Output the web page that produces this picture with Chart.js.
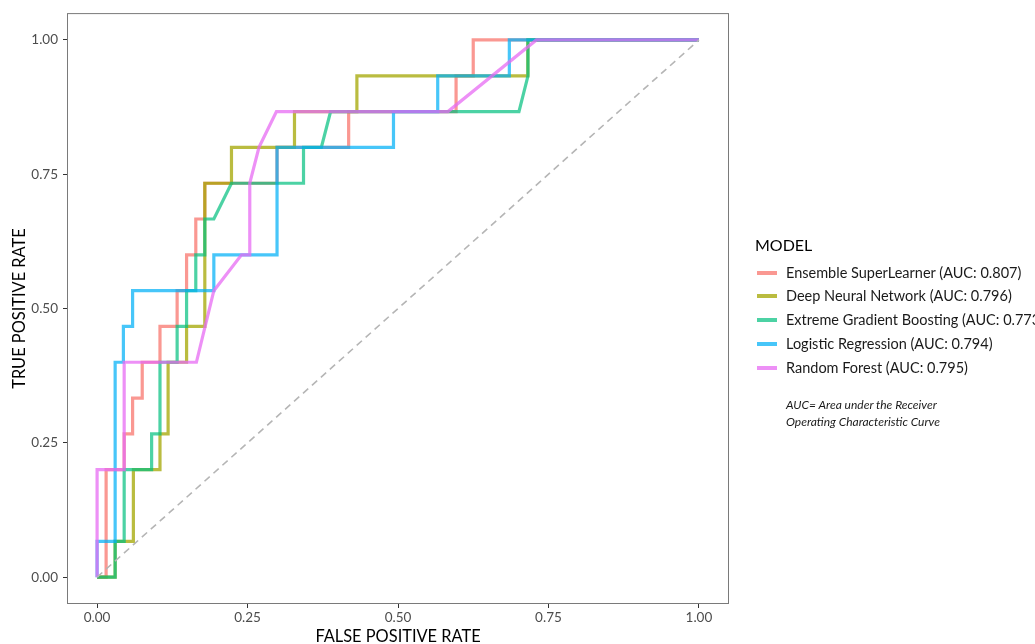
<!DOCTYPE html>
<html>
<head>
<meta charset="utf-8">
<script src="https://cdn.jsdelivr.net/npm/chart.js@4.4.1/dist/chart.umd.min.js"></script>
<style>
  body { margin: 0; background: #fff; font-family: Lato, "Noto Sans", sans-serif; }
  #wrap { position: relative; width: 1035px; height: 644px; overflow: hidden; }
  #legend { position: absolute; left: 0; top: 0; }
  .legend-title { position: absolute; left: 755px; top: 237px; font-size: 16px; line-height: 16px; color: #000; white-space: nowrap; }
  .legend-row { position: absolute; left: 755px; height: 16px; white-space: nowrap; }
  .legend-key { position: absolute; left: 2px; top: 6px; width: 20px; height: 4px; }
  .legend-text { position: absolute; left: 31px; top: 0; font-size: 14.5px; line-height: 16px; color: #1a1a1a; }
  .note { position: absolute; left: 786px; top: 396px; font-size: 12px; line-height: 17.4px; font-style: italic; color: #1a1a1a; white-space: nowrap; }
</style>
</head>
<body>
<div id="wrap">
  <canvas id="rocChart" width="1035" height="644"></canvas>
  <div id="legend"></div>
  <div class="note">AUC= Area under the Receiver<br>Operating Characteristic Curve</div>
</div>
<script>
// tick positions shared by both axes
const rateTicks = [0, 0.25, 0.5, 0.75, 1];

const models = ['Ensemble SuperLearner', 'Deep Neural Network', 'Extreme Gradient Boosting', 'Logistic Regression', 'Random Forest'];
const aucs = ['0.807', '0.796', '0.773', '0.794', '0.795'];
const modelColors = ['rgba(248,118,109,0.75)', 'rgba(163,165,0,0.75)', 'rgba(0,191,125,0.7)', 'rgba(0,176,246,0.72)', 'rgba(231,107,243,0.75)'];

// ROC curves (FPR, TPR pairs)
const esFpr = [0, 0.015, 0.015, 0.045, 0.045, 0.059, 0.059, 0.075, 0.075, 0.1045, 0.1045, 0.133, 0.133, 0.1487, 0.1487, 0.164, 0.164, 0.179, 0.179, 0.299, 0.299, 0.418, 0.418, 0.5965, 0.5965, 0.625, 0.625, 1];
const esTpr = [0, 0, 0.2, 0.2, 0.2667, 0.2667, 0.3333, 0.3333, 0.4, 0.4, 0.4667, 0.4667, 0.5333, 0.5333, 0.6, 0.6, 0.6667, 0.6667, 0.7333, 0.7333, 0.8, 0.8, 0.8667, 0.8667, 0.9333, 0.9333, 1, 1];

const dnnFpr = [0, 0.03, 0.03, 0.0603, 0.0603, 0.1045, 0.1045, 0.118, 0.118, 0.1487, 0.1487, 0.179, 0.179, 0.2233, 0.2233, 0.328, 0.328, 0.4317, 0.4317, 0.7157, 0.7157, 1];
const dnnTpr = [0, 0, 0.0667, 0.0667, 0.2, 0.2, 0.2667, 0.2667, 0.4, 0.4, 0.4667, 0.4667, 0.7333, 0.7333, 0.8, 0.8, 0.8667, 0.8667, 0.9333, 0.9333, 1, 1];

const xgbFpr = [0, 0.03, 0.03, 0.045, 0.045, 0.0906, 0.0906, 0.1045, 0.1045, 0.133, 0.133, 0.1487, 0.1487, 0.164, 0.164, 0.179, 0.179, 0.194, 0.2233, 0.343, 0.343, 0.3726, 0.388, 0.701, 0.716, 0.716, 1];
const xgbTpr = [0, 0, 0.0667, 0.0667, 0.2, 0.2, 0.2667, 0.2667, 0.4, 0.4, 0.4667, 0.4667, 0.5333, 0.5333, 0.6, 0.6, 0.6667, 0.6667, 0.7333, 0.7333, 0.8, 0.8, 0.8667, 0.8667, 0.9333, 1, 1];

const lrFpr = [0, 0, 0.03, 0.03, 0.0437, 0.0437, 0.059, 0.059, 0.194, 0.194, 0.299, 0.299, 0.4925, 0.4925, 0.566, 0.566, 0.685, 0.685, 1];
const lrTpr = [0, 0.0667, 0.0667, 0.4, 0.4, 0.4667, 0.4667, 0.5333, 0.5333, 0.6, 0.6, 0.8, 0.8, 0.8667, 0.8667, 0.9333, 0.9333, 1, 1];

const rfFpr = [0, 0, 0.045, 0.045, 0.165, 0.194, 0.24, 0.2537, 0.2537, 0.269, 0.298, 0.583, 0.73, 1];
const rfTpr = [0, 0.2, 0.2, 0.4, 0.4, 0.5333, 0.6, 0.6, 0.7333, 0.8, 0.8667, 0.8667, 1, 1];

// chance line
const chanceFpr = [0, 1];
const chanceTpr = [0, 1];

function toPoints(xs, ys) {
  return xs.map((x, i) => ({ x: x, y: ys[i] }));
}

const curves = [
  toPoints(esFpr, esTpr),
  toPoints(dnnFpr, dnnTpr),
  toPoints(xgbFpr, xgbTpr),
  toPoints(lrFpr, lrTpr),
  toPoints(rfFpr, rfTpr)
];

// later models sit on top, like ggplot draws them
const datasets = curves.map((pts, i) => ({
  label: models[i] + ' (AUC: ' + aucs[i] + ')',
  data: pts,
  borderColor: modelColors[i],
  borderWidth: 3.2,
  pointRadius: 0,
  fill: false,
  tension: 0,
  order: models.length - i + 1
}));

datasets.push({
  label: 'chance',
  data: toPoints(chanceFpr, chanceTpr),
  borderColor: '#b5b5b5',
  borderWidth: 1.6,
  borderDash: [7, 5],
  pointRadius: 0,
  fill: false,
  order: 0
});

// panel border all round
const panelBorder = {
  id: 'panelBorder',
  afterDraw(chart) {
    const a = chart.chartArea;
    const ctx = chart.ctx;
    ctx.save();
    ctx.strokeStyle = '#7a7a7a';
    ctx.lineWidth = 1;
    ctx.strokeRect(a.left + 0.5, a.top + 0.5, a.right - a.left - 1, a.bottom - a.top - 1);
    ctx.restore();
  }
};

const tickFont = { family: 'Lato', size: 13.5 };
const titleFont = { family: 'Lato', size: 16.4, lineHeight: 1 };

new Chart(document.getElementById('rocChart').getContext('2d'), {
  type: 'line',
  data: { datasets: datasets },
  options: {
    responsive: false,
    animation: false,
    devicePixelRatio: 1,
    layout: { padding: { left: 0, top: 12, right: 306, bottom: 0 } },
    plugins: { legend: { display: false }, tooltip: { enabled: false } },
    scales: {
      x: {
        type: 'linear',
        min: -0.05,
        max: 1.05,
        afterBuildTicks: (scale) => { scale.ticks = rateTicks.map(v => ({ value: v })); },
        afterFit: (scale) => { scale.height = 40; },
        ticks: { callback: v => Number(v).toFixed(2), font: tickFont, color: '#4d4d4d', padding: 2, maxRotation: 0 },
        grid: { drawOnChartArea: false, drawTicks: true, tickLength: 4, color: '#333' },
        border: { display: false },
        title: { display: true, text: 'FALSE POSITIVE RATE', font: titleFont, color: '#000', padding: { top: 0, bottom: -1 } }
      },
      y: {
        type: 'linear',
        min: -0.05,
        max: 1.05,
        afterBuildTicks: (scale) => { scale.ticks = rateTicks.map(v => ({ value: v })); },
        afterFit: (scale) => { scale.width = 67; },
        ticks: { callback: v => Number(v).toFixed(2), font: tickFont, color: '#4d4d4d', padding: 5 },
        grid: { drawOnChartArea: false, drawTicks: true, tickLength: 4, color: '#333' },
        border: { display: false },
        title: { display: true, text: 'TRUE POSITIVE RATE', font: titleFont, color: '#000', padding: { top: 12, bottom: 0 } }
      }
    }
  },
  plugins: [panelBorder]
});

// html legend on the right
function buildLegend() {
  const box = document.getElementById('legend');
  const title = document.createElement('div');
  title.className = 'legend-title';
  title.textContent = 'MODEL';
  box.appendChild(title);
  models.forEach((name, i) => {
    const row = document.createElement('div');
    row.className = 'legend-row';
    row.style.top = (264.5 + i * 23.8) + 'px';
    const key = document.createElement('div');
    key.className = 'legend-key';
    key.style.background = modelColors[i];
    const text = document.createElement('div');
    text.className = 'legend-text';
    text.textContent = name + ' (AUC: ' + aucs[i] + ')';
    row.appendChild(key);
    row.appendChild(text);
    box.appendChild(row);
  });
}
buildLegend();
</script>
</body>
</html>
